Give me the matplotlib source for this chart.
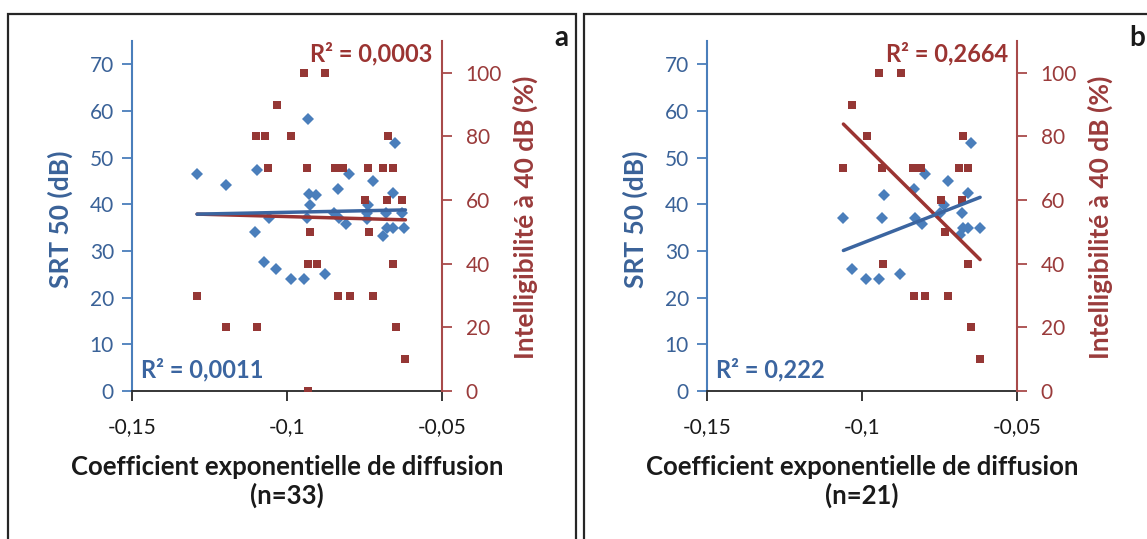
import matplotlib
matplotlib.use("Agg")
import matplotlib.pyplot as plt
import numpy as np
from matplotlib.patches import Rectangle
from matplotlib.ticker import FixedLocator, FuncFormatter

# ---------------- data ----------------
a_srt_x = [-0.129, -0.1196, -0.1097, -0.0933, -0.0653, -0.0799, -0.0724, -0.0835, -0.093, -0.0905,
           -0.0659, -0.0926, -0.0738, -0.1059, -0.0935, -0.0849, -0.0832, -0.0811, -0.0743, -0.0743,
           -0.0681, -0.063, -0.0677, -0.0659, -0.0689, -0.0622, -0.1102, -0.1073, -0.1034, -0.0988,
           -0.0946, -0.0876]
a_srt_y = [46.5, 44.2, 47.4, 58.2, 53.2, 46.5, 44.9, 43.2, 42.2, 41.9,
           42.4, 39.9, 39.9, 37.1, 37.1, 38.2, 37.0, 35.8, 38.1, 36.9,
           38.1, 38.1, 34.9, 34.9, 33.3, 34.9, 34.0, 27.7, 26.1, 24.0,
           24.0, 25.0]
a_int_x = [-0.0944, -0.0876, -0.1032, -0.1101, -0.1072, -0.0988, -0.0674, -0.106, -0.0935, -0.0846,
           -0.0818, -0.074, -0.0689, -0.0659, -0.0748, -0.0678, -0.063, -0.0925, -0.0735, -0.0931,
           -0.0904, -0.0659, -0.129, -0.0834, -0.0798, -0.0724, -0.1196, -0.1096, -0.065, -0.0618,
           -0.0933]
a_int_y = [100, 100, 90, 80, 80, 80, 80, 70, 70, 70,
           70, 70, 70, 70, 60, 60, 60, 50, 50, 40,
           40, 40, 30, 30, 30, 30, 20, 20, 20, 10,
           0]

b_srt_x = [-0.065, -0.0798, -0.0722, -0.0833, -0.093, -0.0658, -0.0734, -0.106, -0.0934, -0.083,
           -0.0807, -0.0748, -0.0677, -0.0675, -0.0657, -0.0619, -0.0684, -0.1033, -0.0986, -0.0944,
           -0.0876]
b_srt_y = [53.2, 46.5, 44.9, 43.3, 41.9, 42.4, 39.9, 37.1, 37.1, 37.1,
           35.8, 38.1, 38.2, 34.9, 34.9, 34.9, 33.4, 26.1, 24.0, 24.0,
           25.0]
b_int_x = [-0.0945, -0.0874, -0.1032, -0.0985, -0.0674, -0.106, -0.0934, -0.0834, -0.0809, -0.0686,
           -0.0657, -0.0746, -0.0679, -0.0733, -0.0932, -0.0657, -0.0833, -0.0796, -0.0722, -0.065,
           -0.0619]
b_int_y = [100, 100, 90, 80, 80, 70, 70, 70, 70, 70,
           70, 60, 60, 50, 40, 40, 30, 30, 30, 20,
           10]

# linear trend lines (slope, intercept) as shown in the chart
a_srt_fit = (13.5, 39.64)
a_int_fit = (-26.9, 52.13)
b_srt_fit = (258.4, 57.5)
b_int_fit = (-966.0, -18.5)

r2_labels = {"a": ("R² = 0,0011", "R² = 0,0003"), "b": ("R² = 0,222", "R² = 0,2664")}
n_labels = {"a": "(n=33)", "b": "(n=21)"}
x_ticks = [-0.15, -0.1, -0.05]
left_ticks = [0, 10, 20, 30, 40, 50, 60, 70]
right_ticks = [0, 20, 40, 60, 80, 100]

# ---------------- style ----------------
FONT = ["Lato", "DejaVu Sans"]
plt.rcParams["font.family"] = FONT
BLUE_M = "#4A7EBB"
BLUE_T = "#3A6298"
BLUE_L = "#3B65A0"
RED_M = "#953735"
RED_T = "#9A3B3B"
RED_L = "#9B3432"

W, H = 1147, 539
fig = plt.figure(figsize=(W / 100, H / 100), dpi=100)

def fx(px):
    return px / W

def fy(py):
    return 1 - py / H

# panel borders
for x0, x1 in [(8, 576), (584, 1160)]:
    fig.patches.append(Rectangle((fx(x0), -0.2), fx(x1) - fx(x0), fy(14) + 0.2,
                                 transform=fig.transFigure, fill=False,
                                 edgecolor="#262626", linewidth=1.6))

def comma(v, pos=None):
    return ("%g" % v).replace(".", ",")

def panel(key, left_px, srt_x, srt_y, int_x, int_y, srt_fit, int_fit, letter_px):
    right_px = left_px + 310
    ax = fig.add_axes([fx(left_px), fy(391), fx(right_px) - fx(left_px), fy(41) - fy(391)])
    ax2 = ax.twinx()
    ax.set_xlim(-0.15, -0.05)
    ax.set_ylim(0, 75)
    ax2.set_ylim(0, 110)
    ax.xaxis.set_major_locator(FixedLocator(x_ticks))
    ax.xaxis.set_major_formatter(FuncFormatter(comma))
    ax.set_yticks(left_ticks)
    ax2.set_yticks(right_ticks)

    for a in (ax, ax2):
        a.spines["top"].set_visible(False)
        a.patch.set_visible(False)
    ax.spines["right"].set_visible(False)
    ax2.spines["left"].set_visible(False)
    ax2.spines["bottom"].set_visible(False)
    ax.spines["left"].set_color(BLUE_M)
    ax.spines["left"].set_linewidth(1.5)
    ax2.spines["right"].set_color("#A84A4A")
    ax2.spines["right"].set_linewidth(1.5)
    ax.spines["bottom"].set_color("#262626")
    ax.spines["bottom"].set_linewidth(1.3)

    ax.tick_params(axis="y", colors=BLUE_M, labelcolor=BLUE_T, direction="out",
                   length=7, width=1.3, labelsize=15, pad=6)
    ax2.tick_params(axis="y", colors="#A84A4A", labelcolor=RED_T, direction="out",
                    length=7, width=1.3, labelsize=15, pad=10)
    ax.tick_params(axis="x", colors="#262626", labelcolor="#1a1a1a", direction="out",
                   length=7, width=1.3, labelsize=15, pad=12)

    ax.plot(srt_x, srt_y, linestyle="none", marker="D", markersize=6.3,
            color=BLUE_M, markeredgewidth=0, zorder=3)
    ax2.plot(int_x, int_y, linestyle="none", marker="s", markersize=5.8,
             color=RED_M, markeredgewidth=0, zorder=3)

    allx = np.array(list(srt_x) + list(int_x))
    xs = np.array([allx.min(), allx.max()])
    ax2.plot(xs, int_fit[0] * xs + int_fit[1], color=RED_L, linewidth=2.5,
             solid_capstyle="round", zorder=4)
    ax2.plot(xs, (srt_fit[0] * xs + srt_fit[1]) * 110 / 75, color=BLUE_L, linewidth=2.5,
             solid_capstyle="round", zorder=4)

    ax.set_ylabel("SRT 50 (dB)", color=BLUE_T, fontsize=19, fontweight="bold")
    ax.yaxis.set_label_coords(-0.19, 0.49)
    ax2.set_ylabel("Intelligibilité à 40 dB (%)", color=RED_T, fontsize=19,
                   fontweight="bold")
    ax2.yaxis.set_label_coords(1.229, 0.497)
    ax.set_xlabel("Coefficient exponentielle de diffusion\n" + n_labels[key],
                  fontsize=18.5, fontweight="bold", color="#1a1a1a", labelpad=13,
                  linespacing=1.15)

    blue_r2, red_r2 = r2_labels[key]
    ax.text(0.03, 0.06, blue_r2, transform=ax.transAxes, color=BLUE_L,
            fontsize=17, fontweight="bold", ha="left", va="center")
    ax.text(0.97, 0.965, red_r2, transform=ax.transAxes, color=RED_L,
            fontsize=17, fontweight="bold", ha="right", va="center")
    fig.text(fx(letter_px), fy(38), key, fontsize=20, fontweight="bold",
             color="#1a1a1a", ha="center", va="center")
    return ax, ax2

panel("a", 132, a_srt_x, a_srt_y, a_int_x, a_int_y, a_srt_fit, a_int_fit, 561)
panel("b", 707, b_srt_x, b_srt_y, b_int_x, b_int_y, b_srt_fit, b_int_fit, 1137)

fig.savefig("out.png", dpi=100)
